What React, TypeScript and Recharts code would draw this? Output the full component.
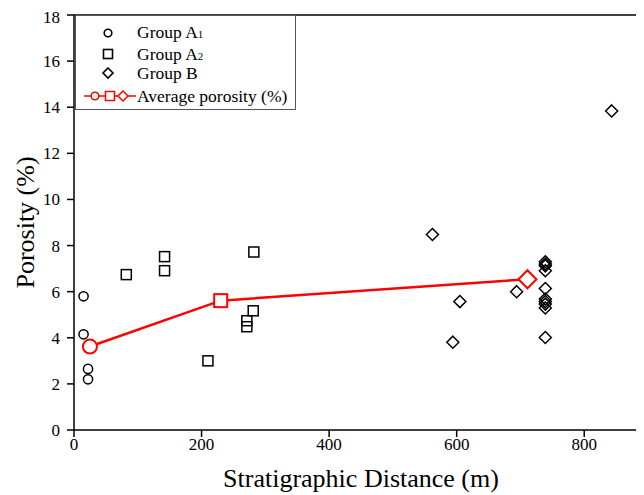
import React from "react";
import {
  ScatterChart,
  Scatter,
  XAxis,
  YAxis,
  ReferenceLine,
} from "recharts";

// Porosity samples by stratigraphic distance (m)
const groupA1Distance = [15, 15, 22, 22];
const groupA1Porosity = [5.8, 4.15, 2.65, 2.2];

const groupA2Distance = [82, 142, 142, 282, 210, 271, 271, 281];
const groupA2Porosity = [6.74, 7.52, 6.91, 7.72, 3.0, 4.74, 4.48, 5.17];

const groupBDistance = [562, 605, 594, 694, 739, 739, 739, 739, 739, 739, 739, 739, 739, 739, 843];
const groupBPorosity = [8.48, 5.57, 3.81, 6.0, 7.3, 7.2, 7.12, 6.91, 6.14, 5.68, 5.57, 5.46, 5.29, 4.01, 13.84];

// Mean porosity of each group: A1, A2, B
const avgDistance = [25, 230, 711];
const avgPorosity = [3.62, 5.61, 6.54];

const xTicks = [0, 200, 400, 600, 800];
const yTicks = [0, 2, 4, 6, 8, 10, 12, 14, 16, 18];

const zip = (xs: number[], ys: number[]) => xs.map((x, i) => ({ x, y: ys[i] }));

const groupA1 = zip(groupA1Distance, groupA1Porosity);
const groupA2 = zip(groupA2Distance, groupA2Porosity);
const groupB = zip(groupBDistance, groupBPorosity);
const average = zip(avgDistance, avgPorosity);

const FONT = "Liberation Serif";
const RED = "#ff0000";

const circleShape = (p: any) => (
  <circle cx={p.cx} cy={p.cy} r={4.6} fill="none" stroke="#000" strokeWidth={1.5} />
);

const squareShape = (p: any) => (
  <rect x={p.cx - 5} y={p.cy - 5} width={10} height={10} fill="none" stroke="#000" strokeWidth={1.5} />
);

const diamondShape = (p: any) => (
  <path
    d={`M${p.cx},${p.cy - 6}L${p.cx + 6},${p.cy}L${p.cx},${p.cy + 6}L${p.cx - 6},${p.cy}Z`}
    fill="none"
    stroke="#000"
    strokeWidth={1.5}
  />
);

// Average markers reuse the group symbols, larger and in red
const averageShape = (p: any) => {
  const i = avgDistance.indexOf(p.payload?.x);
  const { cx, cy } = p;
  if (i === 0) {
    return <circle cx={cx} cy={cy} r={7} fill="#fff" stroke={RED} strokeWidth={2} />;
  }
  if (i === 1) {
    return <rect x={cx - 6.5} y={cy - 6.5} width={13} height={13} fill="#fff" stroke={RED} strokeWidth={2} />;
  }
  return (
    <path
      d={`M${cx},${cy - 9}L${cx + 9},${cy}L${cx},${cy + 9}L${cx - 9},${cy}Z`}
      fill="#fff"
      stroke={RED}
      strokeWidth={2}
    />
  );
};

const XTick = ({ x, y, payload }: any) => (
  <text x={x} y={y} dy={12} textAnchor="middle" fontFamily={FONT} fontSize={17} fill="#000">
    {payload.value}
  </text>
);

const YTick = ({ x, y, payload }: any) => (
  <text x={x} y={y} dy={6} textAnchor="end" fontFamily={FONT} fontSize={17} fill="#000">
    {payload.value}
  </text>
);

const XTitle = ({ viewBox }: any) => (
  <text
    x={viewBox.x + viewBox.width / 2}
    y={viewBox.y + 57}
    textAnchor="middle"
    fontFamily={FONT}
    fontSize={26}
    fill="#000"
  >
    Stratigraphic Distance (m)
  </text>
);

const YTitle = ({ viewBox }: any) => {
  const cx = 26;
  const cy = viewBox.y + viewBox.height / 2;
  return (
    <text
      x={cx}
      y={cy}
      transform={`rotate(-90 ${cx} ${cy})`}
      textAnchor="middle"
      fontFamily={FONT}
      fontSize={26}
      fill="#000"
    >
      Porosity (%)
    </text>
  );
};

function LegendBox() {
  const rowText = { fontFamily: FONT, fontSize: 17.5, fill: "#000" };
  return (
    <div
      style={{
        position: "absolute",
        left: 67,
        top: 7,
        width: 221,
        height: 95,
        border: "1px solid #555",
        background: "#fff",
        boxSizing: "border-box",
      }}
    >
      <svg width={221} height={95}>
        <circle cx={32} cy={17} r={3.8} fill="none" stroke="#000" strokeWidth={1.6} />
        <text x={61} y={22} style={rowText}>
          Group A<tspan fontSize={11}>1</tspan>
        </text>
        <rect x={27.5} y={33.5} width={9} height={9} fill="none" stroke="#000" strokeWidth={1.6} />
        <text x={61} y={44} style={rowText}>
          Group A<tspan fontSize={11}>2</tspan>
        </text>
        <path d="M32,52L37,57L32,62L27,57Z" fill="none" stroke="#000" strokeWidth={1.6} />
        <text x={61} y={63} style={rowText}>
          Group B
        </text>
        <line x1={8} y1={80} x2={60} y2={80} stroke={RED} strokeWidth={1.5} />
        <circle cx={19} cy={80} r={3.8} fill="#fff" stroke={RED} strokeWidth={1.5} />
        <rect x={29.5} y={75.5} width={9} height={9} fill="#fff" stroke={RED} strokeWidth={1.5} />
        <path d="M47,75L52,80L47,85L42,80Z" fill="#fff" stroke={RED} strokeWidth={1.5} />
        <text x={61} y={86} style={rowText}>
          Average porosity (%)
        </text>
      </svg>
    </div>
  );
}

export default function App() {
  return (
    <div
      style={{
        position: "relative",
        width: 636,
        height: 487,
        overflow: "hidden",
        background: "#fff",
      }}
    >
      <ScatterChart width={660} height={487} margin={{ top: 7, right: 20, left: 0, bottom: 0 }}>
        <XAxis
          type="number"
          dataKey="x"
          domain={[0, 900]}
          ticks={xTicks}
          height={65}
          stroke="#000"
          strokeWidth={1.5}
          tickSize={7}
          tickMargin={1}
          tick={<XTick />}
          label={<XTitle />}
        />
        <YAxis
          type="number"
          dataKey="y"
          domain={[0, 18]}
          ticks={yTicks}
          width={66}
          stroke="#000"
          strokeWidth={1.5}
          tickSize={7}
          tickMargin={7}
          tick={<YTick />}
          label={<YTitle />}
        />
        <ReferenceLine y={18} stroke="#000" strokeWidth={1.5} />
        <ReferenceLine x={900} stroke="#000" strokeWidth={1.5} />
        <Scatter name="Group A1" data={groupA1} shape={circleShape} isAnimationActive={false} />
        <Scatter name="Group A2" data={groupA2} shape={squareShape} isAnimationActive={false} />
        <Scatter name="Group B" data={groupB} shape={diamondShape} isAnimationActive={false} />
        <Scatter
          name="Average porosity (%)"
          data={average}
          line={{ stroke: RED, strokeWidth: 2.5 }}
          lineType="joint"
          shape={averageShape}
          isAnimationActive={false}
        />
      </ScatterChart>
      <LegendBox />
    </div>
  );
}
